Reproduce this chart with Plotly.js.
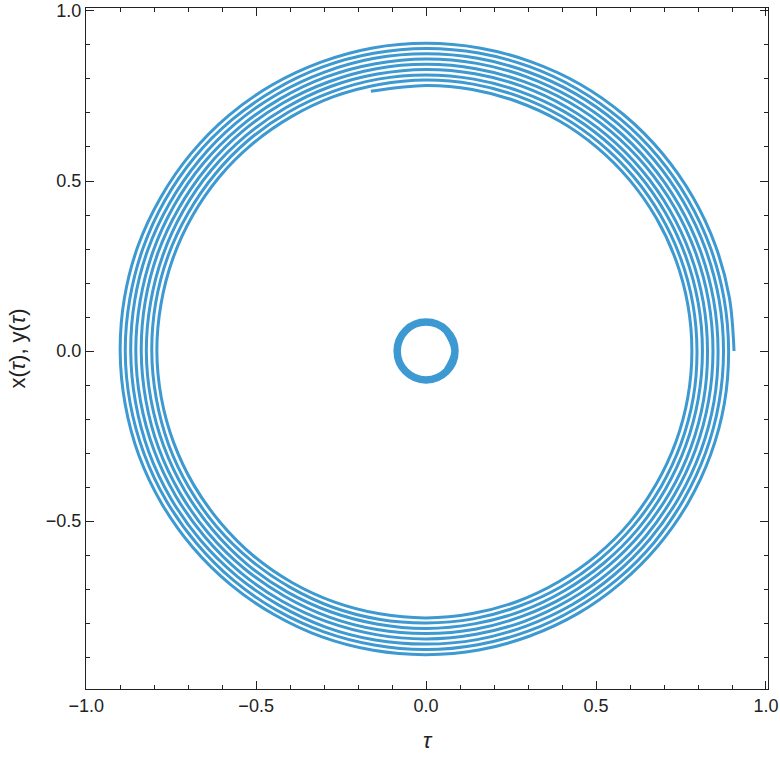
<!DOCTYPE html>
<html>
<head>
<meta charset="utf-8">
<script src="https://cdn.plot.ly/plotly-3.0.1.min.js"></script>
<style>
  html, body { margin: 0; padding: 0; background: #fff; }
  #graph { width: 780px; height: 758px; }
</style>
</head>
<body>
<div id="graph"></div>
<script>
// spiral radius, read every 10 deg counterclockwise, one array per turn
// (turn 1 starts at the right end, theta = 0)
const thetaStep = 10;
const rTurn1 = [0.906, 0.906, 0.906, 0.906, 0.906, 0.906, 0.906, 0.905, 0.905, 0.905, 0.905, 0.904,
                0.904, 0.904, 0.903, 0.902, 0.902, 0.901, 0.900, 0.899, 0.899, 0.898, 0.897, 0.896,
                0.895, 0.895, 0.894, 0.893, 0.893, 0.892, 0.892, 0.891, 0.891, 0.891, 0.891, 0.891];
const rTurn2 = [0.890, 0.890, 0.890, 0.890, 0.890, 0.890, 0.890, 0.890, 0.890, 0.890, 0.889, 0.889,
                0.888, 0.888, 0.888, 0.887, 0.886, 0.885, 0.885, 0.884, 0.883, 0.882, 0.881, 0.881,
                0.880, 0.879, 0.878, 0.878, 0.877, 0.877, 0.876, 0.876, 0.876, 0.875, 0.875, 0.875];
const rTurn3 = [0.875, 0.875, 0.875, 0.875, 0.875, 0.875, 0.875, 0.874, 0.874, 0.874, 0.874, 0.873,
                0.873, 0.873, 0.872, 0.871, 0.871, 0.870, 0.869, 0.868, 0.868, 0.867, 0.866, 0.865,
                0.864, 0.864, 0.863, 0.862, 0.862, 0.861, 0.861, 0.860, 0.860, 0.860, 0.860, 0.860];
const rTurn4 = [0.859, 0.859, 0.859, 0.859, 0.859, 0.859, 0.859, 0.859, 0.859, 0.859, 0.858, 0.858,
                0.857, 0.857, 0.857, 0.856, 0.855, 0.854, 0.854, 0.853, 0.852, 0.851, 0.850, 0.850,
                0.849, 0.848, 0.847, 0.847, 0.846, 0.846, 0.845, 0.845, 0.845, 0.844, 0.844, 0.844];
const rTurn5 = [0.844, 0.844, 0.844, 0.844, 0.844, 0.844, 0.844, 0.843, 0.843, 0.843, 0.843, 0.842,
                0.842, 0.842, 0.841, 0.840, 0.840, 0.839, 0.838, 0.837, 0.837, 0.836, 0.835, 0.834,
                0.833, 0.833, 0.832, 0.831, 0.831, 0.830, 0.830, 0.829, 0.829, 0.829, 0.829, 0.829];
const rTurn6 = [0.828, 0.828, 0.828, 0.828, 0.828, 0.828, 0.828, 0.828, 0.828, 0.828, 0.827, 0.827,
                0.826, 0.826, 0.826, 0.825, 0.824, 0.823, 0.823, 0.822, 0.821, 0.820, 0.819, 0.819,
                0.818, 0.817, 0.816, 0.816, 0.815, 0.815, 0.814, 0.814, 0.814, 0.813, 0.813, 0.813];
const rTurn7 = [0.813, 0.813, 0.813, 0.813, 0.813, 0.813, 0.813, 0.812, 0.812, 0.812, 0.812, 0.811,
                0.811, 0.811, 0.810, 0.809, 0.809, 0.808, 0.807, 0.806, 0.806, 0.805, 0.804, 0.803,
                0.802, 0.802, 0.801, 0.800, 0.800, 0.799, 0.799, 0.798, 0.798, 0.798, 0.798, 0.798];
const rTurn8 = [0.797, 0.797, 0.797, 0.797, 0.797, 0.797, 0.797, 0.797, 0.797, 0.797, 0.796, 0.796,
                0.795, 0.795, 0.795, 0.794, 0.793, 0.792, 0.792, 0.791, 0.790, 0.789, 0.788, 0.788,
                0.787, 0.786, 0.785, 0.785, 0.784, 0.784, 0.783, 0.783, 0.783, 0.782, 0.782, 0.782];
const rTurn9 = [0.782, 0.782, 0.782, 0.782, 0.782, 0.782, 0.782, 0.781, 0.781, 0.781];
// inner end of the spiral, just past the top
const endTheta = 2982;
const endR = 0.781;

// small thick ring at the origin
const ringTheta = [-45, 0, 45, 90, 135, 180, 225, 270, 315, 360, 405];
const ringR = [0.085, 0.085, 0.085, 0.085, 0.085, 0.085, 0.085, 0.085, 0.085, 0.085, 0.085];

const lineColor = '#3d99d1';
const frameColor = '#222';

// polar readings -> x, y
function toXY(rs, ths) {
    let xs = [], ys = [];
    for (let i = 0; i < rs.length; i++) {
        let a = ths[i] * Math.PI / 180;
        xs.push(rs[i] * Math.cos(a));
        ys.push(rs[i] * Math.sin(a));
    }
    return { x: xs, y: ys };
}

let turns = [rTurn1, rTurn2, rTurn3, rTurn4, rTurn5, rTurn6, rTurn7, rTurn8, rTurn9];
let spR = [], spTheta = [];
turns.forEach((t, k) => {
    t.forEach((r, j) => { spR.push(r); spTheta.push(360 * k + thetaStep * j); });
});
spR.push(endR);
spTheta.push(endTheta);

let sp = toXY(spR, spTheta);
let ring = toXY(ringR, ringTheta);

// even 10 deg spacing keeps the spline round
let traces = [
    { x: sp.x, y: sp.y, mode: 'lines',
      line: { color: lineColor, width: 3, shape: 'spline', smoothing: 1, simplify: false }, hoverinfo: 'skip' },
    { x: ring.x, y: ring.y, mode: 'lines',
      line: { color: lineColor, width: 7.5, shape: 'spline', smoothing: 1.1, simplify: false }, hoverinfo: 'skip' }
];

let axisCommon = {
    ticks: 'inside', ticklen: 8, tickwidth: 1, tickcolor: frameColor,
    showline: true, linecolor: frameColor, linewidth: 1, mirror: 'ticks',
    showgrid: false, zeroline: false,
    dtick: 0.5, tick0: 0, tickformat: '.1f',
    minor: { dtick: 0.1, tick0: 0, ticks: 'inside', ticklen: 4, tickwidth: 1, tickcolor: frameColor, showgrid: false },
    tickfont: { size: 18, color: frameColor }
};

let layout = {
    width: 780, height: 758,
    margin: { l: 86, r: 12, t: 8, b: 69 },
    paper_bgcolor: '#fff', plot_bgcolor: '#fff',
    showlegend: false,
    font: { family: 'Liberation Sans, Arial, sans-serif', color: frameColor },
    xaxis: Object.assign({}, axisCommon, {
        range: [-1.0005, 1.0059],
        title: { text: '<i>τ</i>', font: { size: 22 }, standoff: 18 }
    }),
    yaxis: Object.assign({}, axisCommon, {
        range: [-0.9941, 1.0088],
        title: { text: 'x(<i>τ</i>), y(<i>τ</i>)', font: { size: 22 }, standoff: 14 }
    })
};

Plotly.newPlot('graph', traces, layout, { staticPlot: true, displayModeBar: false });
</script>
</body>
</html>
